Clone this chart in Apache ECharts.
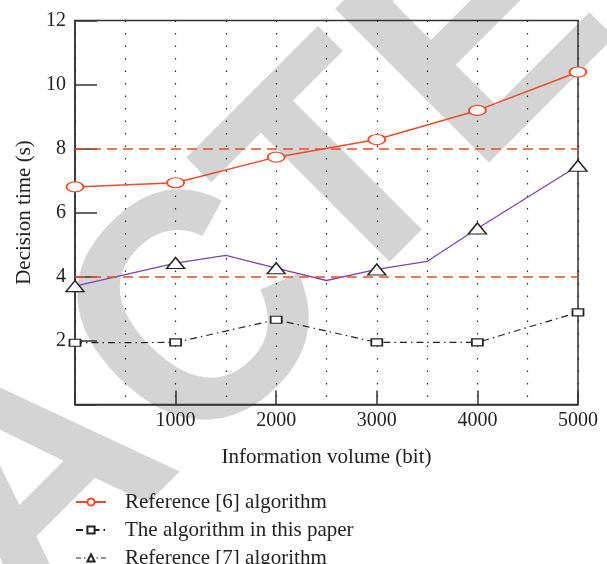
<!DOCTYPE html>
<html>
<head>
<meta charset="utf-8">
<script src="https://cdn.jsdelivr.net/npm/echarts@6/dist/echarts.min.js"></script>
<style>
html,body{margin:0;padding:0;background:#fff;}
#chart{width:607px;height:564px;}
</style>
</head>
<body>
<div id="chart"></div>
<script>
// ---- data ----
const seriesNames = ['Reference [6] algorithm', 'The algorithm in this paper', 'Reference [7] algorithm'];
const redX = [0, 1000, 2000, 3000, 4000, 5000];
const redY = [6.8, 6.93, 7.73, 8.28, 9.19, 10.39];
const blackX = [0, 1000, 2000, 3000, 4000, 5000];
const blackY = [1.93, 1.94, 2.65, 1.94, 1.94, 2.88];
const purpleX = [0, 1000, 1500, 2000, 2500, 3000, 3500, 4000, 5000];
const purpleY = [3.7, 4.42, 4.66, 4.26, 3.875, 4.22, 4.47, 5.5, 7.46];
const refLines = [4, 8];
const xTicks = [1000, 2000, 3000, 4000, 5000];
const yTicks = [2, 4, 6, 8, 10, 12];
const xName = 'Information volume (bit)';
const yName = 'Decision time (s)';
const watermarkParts = ['RETRA', 'C', 'TED'];

const pair = (xs, ys) => xs.map((x, i) => [x, ys[i]]);
const serif = '"Liberation Serif", "DejaVu Serif", serif';

// watermark pieces along a 45-degree baseline: [x, y, align, fontSize, scaleX]
const wmPlace = [
  [124, 404, 'right', 316, 1],
  [126.9, 403.4, 'left', 330, 0.93],
  [275.9, 252.2, 'left', 316, 1]
];
const wmGraphics = watermarkParts.map((t, i) => ({
  type: 'text', z: -100, x: wmPlace[i][0], y: wmPlace[i][1],
  rotation: Math.PI / 4, scaleX: wmPlace[i][4], scaleY: 1,
  style: {
    text: t, fontFamily: '"Liberation Sans", Arial, sans-serif', fontWeight: 'bold',
    fontSize: wmPlace[i][3], fill: '#d4d4d4',
    align: wmPlace[i][2], textAlign: wmPlace[i][2],
    verticalAlign: 'middle', textVerticalAlign: 'middle'
  }
}));

const chart = echarts.init(document.getElementById('chart'), null, {renderer: 'canvas'});
chart.setOption({
  animation: false,
  backgroundColor: '#fff',
  graphic: wmGraphics,
  grid: {
    left: 75, right: 29, top: 20.5, bottom: 159.5,
    show: true, borderColor: '#333', borderWidth: 1.5, backgroundColor: 'transparent'
  },
  legend: {
    orient: 'vertical', left: 75, top: 491.5, height: 100, padding: 0,
    itemWidth: 30, itemHeight: 9, itemGap: 7,
    data: [
      {name: seriesNames[0]},
      {name: seriesNames[1]},
      {name: seriesNames[2], lineStyle: {color: '#222', width: 1.2, type: [5, 3, 1.5, 3]}}
    ],
    textStyle: {fontFamily: serif, fontSize: 21, color: '#222', padding: [0, 0, 0, 14]}
  },
  xAxis: {
    type: 'value', min: 0, max: 5000, interval: 1000,
    name: xName, nameLocation: 'middle', nameGap: 42,
    nameTextStyle: {fontFamily: serif, fontSize: 21, color: '#222'},
    axisLine: {show: true, lineStyle: {color: '#333', width: 1.5}},
    axisTick: {show: true, inside: true, length: 14, lineStyle: {color: '#333', width: 1.5}},
    axisLabel: {
      fontFamily: serif, fontSize: 20, color: '#222', margin: 6,
      formatter: (v) => (xTicks.indexOf(v) >= 0 ? String(v) : '')
    },
    splitLine: {show: true, lineStyle: {color: '#222', width: 1.2, type: [1.5, 11]}},
    minorTick: {show: false, splitNumber: 2},
    minorSplitLine: {show: true, lineStyle: {color: '#222', width: 1.2, type: [1.5, 11]}}
  },
  yAxis: {
    type: 'value', min: 0, max: 12, interval: 2,
    name: yName, nameLocation: 'middle', nameGap: 31,
    nameTextStyle: {fontFamily: serif, fontSize: 21, color: '#222'},
    axisLine: {show: true, lineStyle: {color: '#333', width: 1.5}},
    axisTick: {show: true, inside: true, length: 22, lineStyle: {color: '#333', width: 1.5}},
    axisLabel: {
      fontFamily: serif, fontSize: 20, color: '#222', margin: 9,
      formatter: (v) => (yTicks.indexOf(v) >= 0 ? String(v) : '')
    },
    splitLine: {show: false}
  },
  series: [
    {
      name: seriesNames[1], type: 'line', z: 3,
      data: pair(blackX, blackY),
      symbol: 'rect', symbolSize: [11, 7], clip: false,
      lineStyle: {color: '#222', width: 1.2, type: [7, 4, 1.5, 4]},
      itemStyle: {color: '#fff', borderColor: '#222', borderWidth: 1.4}
    },
    {
      name: seriesNames[2], type: 'line', z: 4,
      data: pair(purpleX, purpleY).map(p => (p[0] % 1000 === 0 ? p : {value: p, symbol: 'none'})),
      symbol: 'triangle', symbolSize: [18, 11], clip: false, showAllSymbol: true,
      lineStyle: {color: '#7b45ae', width: 1.3},
      itemStyle: {color: '#fff', borderColor: '#222', borderWidth: 1.4}
    },
    {
      name: seriesNames[0], type: 'line', z: 5,
      data: pair(redX, redY),
      symbol: 'circle', symbolSize: [17, 10], clip: false,
      lineStyle: {color: '#f04a2c', width: 1.5},
      itemStyle: {color: '#fff', borderColor: '#f04a2c', borderWidth: 1.5},
      markLine: {
        silent: true, symbol: 'none', label: {show: false},
        lineStyle: {color: '#f04a2c', width: 1.5, type: [10, 6]},
        data: refLines.map((y) => ({yAxis: y}))
      }
    }
  ]
});
</script>
</body>
</html>
